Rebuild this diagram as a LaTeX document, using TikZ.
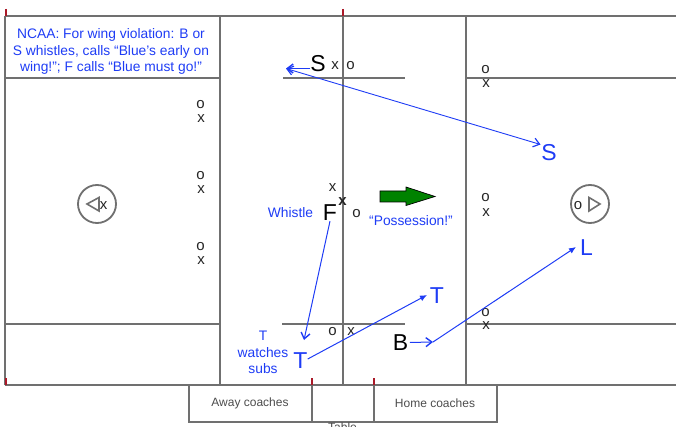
\documentclass[tikz,border=0pt]{standalone}
\usepackage{fontspec}
\setmainfont{Liberation Sans}
\usetikzlibrary{arrows.meta}
\definecolor{court}{RGB}{112,112,112}
\definecolor{callblue}{RGB}{30,60,245}
\definecolor{tickred}{RGB}{170,25,40}
\definecolor{possgreen}{RGB}{0,130,0}
\tikzset{
  courtline/.style={draw=court,line width=2pt},
  tickmark/.style={draw=tickred,line width=2pt},
  mover/.style={draw=callblue,line width=1pt,-{Straight Barb[length=6pt,width=9pt,line width=1.4pt]}},
  solidtip/.style={draw=callblue,line width=1pt,-{Latex[length=7pt,width=6pt]}},
  official/.style={font=\fontsize{23}{23}\selectfont,inner sep=0pt,text=black},
  blueofficial/.style={official,text=callblue},
  player/.style={font=\fontsize{15}{15}\selectfont,inner sep=0pt,text=black!85,yshift=-1.2pt},
  note/.style={font=\fontsize{13.8}{16.8}\selectfont,text=callblue,align=center,inner sep=0pt},
  coach/.style={font=\fontsize{12}{12}\selectfont,text=black!70,inner sep=0pt},
  arrowcircle/.style={circle,draw=court,line width=1.8pt,minimum size=38pt,inner sep=0pt}
}
\begin{document}
\begin{tikzpicture}[x=1pt,y=-1pt]
\useasboundingbox (0,0) rectangle (676,427);
\clip (0,0) rectangle (676,427);
% court
\draw[courtline] (5,16.5) -- (676,16.5);
\draw[courtline] (5,385) -- (676,385);
\draw[courtline] (5,16.5) -- (5,385);
\draw[courtline] (220,16.5) -- (220,385);
\draw[courtline] (342.5,16.5) -- (342.5,385);
\draw[courtline] (466,16.5) -- (466,385);
\draw[courtline] (5,78.5) -- (220,78.5);
\draw[courtline] (283,78.5) -- (405,78.5);
\draw[courtline] (466,78.5) -- (676,78.5);
\draw[courtline] (5,324) -- (220,324);
\draw[courtline] (282,324) -- (405,324);
\draw[courtline] (466,324) -- (676,324);
% table
\draw[courtline] (188.5,385) -- (188.5,421.5) -- (497,421.5) -- (497,385);
\draw[courtline] (312,385) -- (312,421.5);
\draw[courtline] (374,385) -- (374,421.5);
% ticks
\draw[tickmark] (5.5,9) -- (5.5,16);
\draw[tickmark] (342.5,9) -- (342.5,16);
\draw[tickmark] (5.5,378) -- (5.5,385);
\draw[tickmark] (312,378) -- (312,385);
\draw[tickmark] (374,378) -- (374,385);
% coaches
\node[coach] (away) at (250,403.5) {Away coaches};
\node[coach] (home) at (435,403.5) {Home coaches};
\node[coach] (tablelabel) at (342.5,427) {Table};
% notes
\node[note] (ncaa) at (111,51.5) {NCAA: For wing violation: B or\\S whistles, calls “Blue’s early on\\wing!”; F calls “Blue must go!”};
\node[note] (whistle) at (290.5,212.5) {Whistle};
\node[note] (poss) at (411,220.5) {“Possession!”};
\node[note] (watch) at (263,352.5) {T\\watches\\subs};
% circles
\node[arrowcircle] (leftc) at (97,204) {};
\node[arrowcircle] (rightc) at (590,204) {};
\draw[courtline,line width=1.6pt] (99,197.5) -- (87,204) -- (99,211) -- cycle;
\draw[courtline,line width=1.6pt] (589,197.5) -- (600,204) -- (589,211) -- cycle;
\node[player] (xc) at (103.5,204) {x};
\node[player] (oc) at (578,204) {o};
% players left
\node[player] (o1) at (200.5,103) {o};
\node[player] (x1) at (201,117) {x};
\node[player] (o2) at (200.5,174) {o};
\node[player] (x2) at (201,188) {x};
\node[player] (o3) at (200.5,245) {o};
\node[player] (x3) at (201,259) {x};
% center
\node[player] (x4) at (335,64) {x};
\node[player] (o4) at (350.5,64) {o};
\node[player] (x5) at (332.5,186) {x};
\node[player,font=\fontsize{15}{15}\selectfont\bfseries] (x6) at (342.5,200) {x};
\node[player] (o6) at (356.5,212) {o};
\node[player] (o7) at (332.5,330) {o};
\node[player] (x7) at (351,330) {x};
% right
\node[player] (o8) at (485.5,68) {o};
\node[player] (x8) at (486,82) {x};
\node[player] (o9) at (485.5,196.5) {o};
\node[player] (x9) at (486,211) {x};
\node[player] (o10) at (485.5,311) {o};
\node[player] (x10) at (486,324.5) {x};
% officials
\node[official] (sb) at (318,63.5) {S};
\node[official] (fb) at (330,213) {F};
\node[official] (bb) at (400.5,342.5) {B};
\node[blueofficial] (sw) at (549,152.5) {S};
\node[blueofficial] (lw) at (586.5,248) {L};
\node[blueofficial] (tw) at (437,295.5) {T};
\node[blueofficial] (ts) at (300.5,361) {T};
% possession arrow
\draw[draw=black,fill=possgreen,line width=0.7pt] (380,191) -- (406,191) -- (406,187) -- (435,196.5) -- (406,205.5) -- (406,202) -- (380,202) -- cycle;
% connectors
\coordinate (sa) at (286,68.5);
\coordinate (sbend) at (540.5,144.5);
\coordinate (ftip) at (304,340);
\coordinate (ttip) at (427,295);
\coordinate (bmid) at (433,342);
\coordinate (ltip) at (576,247);
\draw[mover] (sb.west |- sa) -- (sa);
\draw[mover,line width=0.9pt,{Straight Barb[length=6pt,width=9pt,line width=1.2pt]}-{Straight Barb[length=6pt,width=9pt,line width=1.2pt]}] (sa) -- (sbend);
\draw[mover] (fb.south) -- (ftip);
\draw[solidtip] (ts.east) ++(0,-2) -- (ttip);
\draw[mover,shorten <=1.5pt] (bb.east) -- (bmid);
\draw[solidtip] (bmid) -- (ltip);
\end{tikzpicture}
\end{document}
